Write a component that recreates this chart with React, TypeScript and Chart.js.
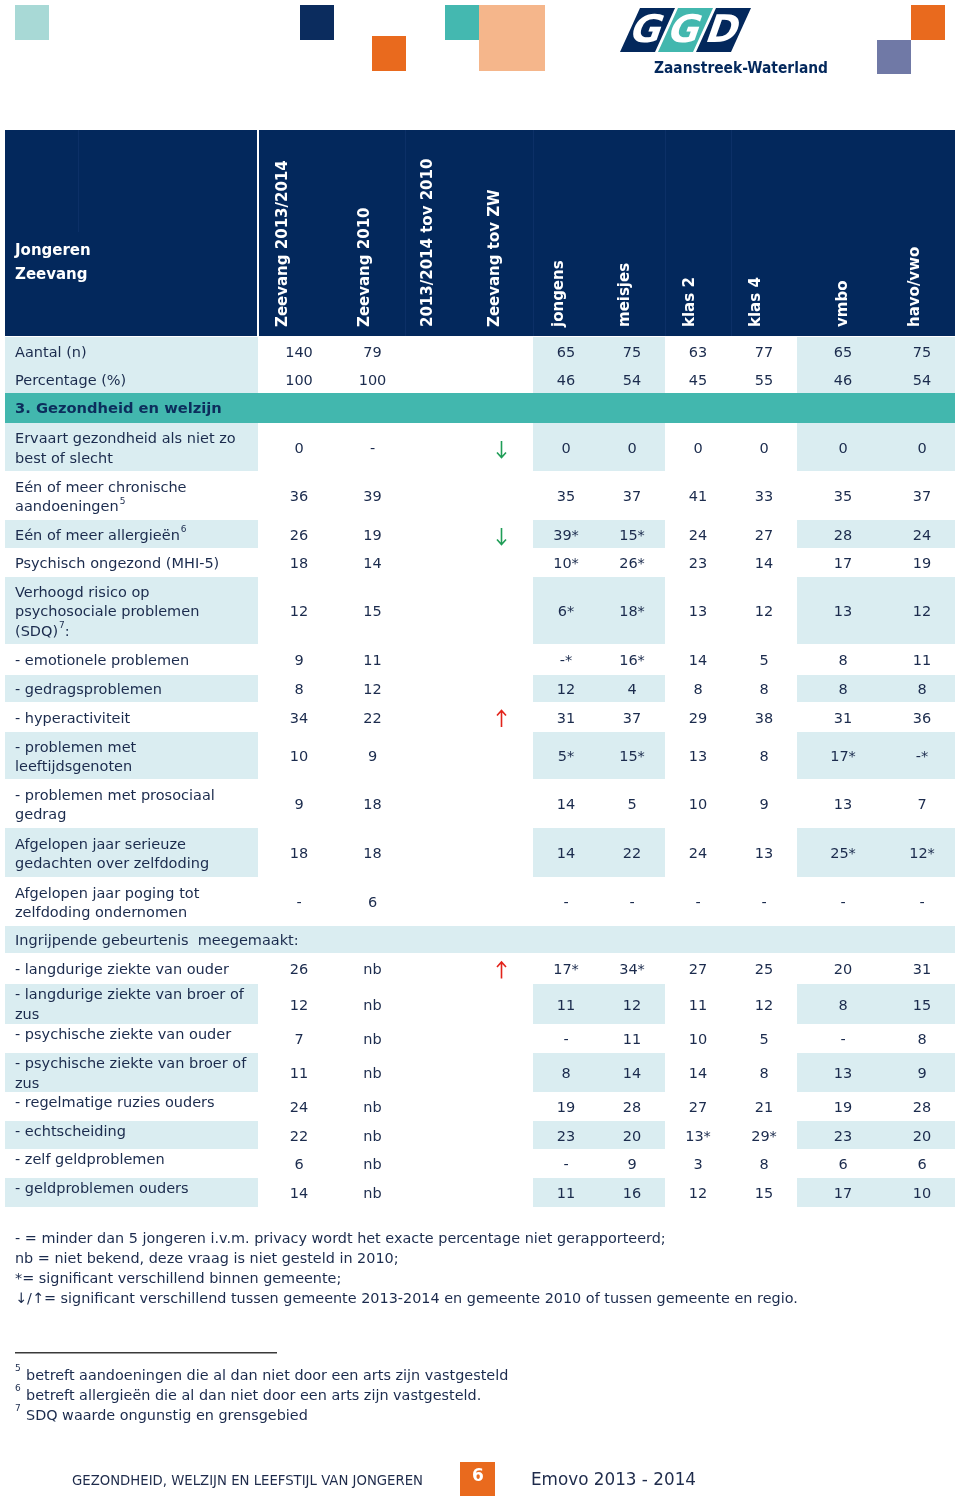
import React, { useEffect, useRef } from "react";
import { Chart, registerables } from "chart.js";

Chart.register(...registerables);

// ---------------- DATA ----------------
const columnTitles = [
  "Zeevang 2013/2014",
  "Zeevang 2010",
  "2013/2014 tov 2010",
  "Zeevang tov ZW",
  "jongens",
  "meisjes",
  "klas 2",
  "klas 4",
  "vmbo",
  "havo/vwo",
];

const cornerTitle = ["Jongeren", "Zeevang"];

const rowLabels = [
  "Aantal (n)",
  "Percentage (%)",
  "3. Gezondheid en welzijn",
  "Ervaart gezondheid als niet zo\nbest of slecht",
  "Eén of meer chronische\naandoeningen^5",
  "Eén of meer allergieën^6",
  "Psychisch ongezond (MHI-5)",
  "Verhoogd risico op\npsychosociale problemen\n(SDQ)^7:",
  "- emotionele problemen",
  "- gedragsproblemen",
  "- hyperactiviteit",
  "- problemen met\nleeftijdsgenoten",
  "- problemen met prosociaal\ngedrag",
  "Afgelopen jaar serieuze\ngedachten over zelfdoding",
  "Afgelopen jaar poging tot\nzelfdoding ondernomen",
  "Ingrijpende gebeurtenis  meegemaakt:",
  "- langdurige ziekte van ouder",
  "- langdurige ziekte van broer of\nzus",
  "- psychische ziekte van ouder",
  "- psychische ziekte van broer of\nzus",
  "- regelmatige ruzies ouders",
  "- echtscheiding",
  "- zelf geldproblemen",
  "- geldproblemen ouders",
];

const rowKinds = [
  "data", "data", "section", "data", "data", "data", "data", "data", "data", "data",
  "data", "data", "data", "data", "data", "sub", "data", "data", "data", "data",
  "data", "data", "data", "data",
];

const zeevang2014 = ["140", "100", null, "0", "36", "26", "18", "12", "9", "8", "34", "10", "9", "18", "-", null, "26", "12", "7", "11", "24", "22", "6", "14"];
const zeevang2010 = ["79", "100", null, "-", "39", "19", "14", "15", "11", "12", "22", "9", "18", "18", "6", null, "nb", "nb", "nb", "nb", "nb", "nb", "nb", "nb"];
const tov2010 = ["", "", null, "", "", "", "", "", "", "", "", "", "", "", "", null, "", "", "", "", "", "", "", ""];
const tovZW = ["", "", null, "↓", "", "↓", "", "", "", "", "↑", "", "", "", "", null, "↑", "", "", "", "", "", "", ""];
const jongens = ["65", "46", null, "0", "35", "39*", "10*", "6*", "-*", "12", "31", "5*", "14", "14", "-", null, "17*", "11", "-", "8", "19", "23", "-", "11"];
const meisjes = ["75", "54", null, "0", "37", "15*", "26*", "18*", "16*", "4", "37", "15*", "5", "22", "-", null, "34*", "12", "11", "14", "28", "20", "9", "16"];
const klas2 = ["63", "45", null, "0", "41", "24", "23", "13", "14", "8", "29", "13", "10", "24", "-", null, "27", "11", "10", "14", "27", "13*", "3", "12"];
const klas4 = ["77", "55", null, "0", "33", "27", "14", "12", "5", "8", "38", "8", "9", "13", "-", null, "25", "12", "5", "8", "21", "29*", "8", "15"];
const vmbo = ["65", "46", null, "0", "35", "28", "17", "13", "8", "8", "31", "17*", "13", "25*", "-", null, "20", "8", "-", "13", "19", "23", "6", "17"];
const havoVwo = ["75", "54", null, "0", "37", "24", "19", "12", "11", "8", "36", "-*", "7", "12*", "-", null, "31", "15", "8", "9", "28", "20", "6", "10"];

const columnValues = [zeevang2014, zeevang2010, tov2010, tovZW, jongens, meisjes, klas2, klas4, vmbo, havoVwo];

const legendLines = [
  "- = minder dan 5 jongeren i.v.m. privacy wordt het exacte percentage niet gerapporteerd;",
  "nb = niet bekend, deze vraag is niet gesteld in 2010;",
  "*= significant verschillend binnen gemeente;",
  "↓/↑= significant verschillend tussen gemeente 2013-2014 en gemeente 2010 of tussen gemeente en regio.",
];

const footnoteNumbers = ["5", "6", "7"];
const footnoteTexts = [
  "betreft aandoeningen die al dan niet door een arts zijn vastgesteld",
  "betreft allergieën die al dan niet door een arts zijn vastgesteld.",
  "SDQ waarde ongunstig en grensgebied",
];

const footerLeft = "GEZONDHEID, WELZIJN EN LEEFSTIJL VAN JONGEREN";
const footerPage = "6";
const footerRight = "Emovo 2013 - 2014";
const logoLetters = ["G", "G", "D"];
const logoName = "Zaanstreek-Waterland";

// ---------------- LAYOUT / STYLE ----------------
const PAGE_W = 960;
const PAGE_H = 1499;
const colEdges = [5, 258, 340, 405, 470, 533, 599, 665, 731, 797, 889, 955];
const headerDx = [25, 25, 23, 25, 26, 26, 25, 25, 46, 26];
const headerTop = 130;
const tableTop = 337;
const rowHeights = [28, 28, 30, 48, 49, 28, 29, 67, 31, 27, 30, 47, 49, 49, 49, 27, 31, 40, 29, 39, 29, 28, 29, 29];
const rowShaded = [1, 1, 0, 1, 0, 1, 0, 1, 0, 1, 0, 1, 0, 1, 0, 1, 0, 1, 0, 1, 0, 1, 0, 1];
const rowTopAligned = [0, 0, 0, 0, 0, 0, 0, 0, 0, 0, 0, 0, 0, 0, 0, 0, 0, 1, 1, 1, 1, 1, 1, 1];
const shadedSpans = [[5, 258], [533, 665], [797, 955]];
const TEXT_DY = 2;

const NAVY = "#03285c";
const SHADE = "#daedf1";
const TEAL = "#42b7ae";
const TEXT = "#1b2b4d";
const GREEN = "#1f9d57";
const RED = "#e2231a";
const FONT = "'DejaVu Sans', Verdana, sans-serif";

const rowTops: number[] = [];
{
  let acc = tableTop;
  rowHeights.forEach((h) => {
    rowTops.push(acc);
    acc += h;
  });
}

function colCenter(c: number) {
  return (colEdges[c + 1] + colEdges[c + 2]) / 2;
}

function drawRich(ctx: CanvasRenderingContext2D, text: string, x: number, y: number, font: string, supFont: string) {
  const parts = text.split(/(\^\d)/);
  let cx = x;
  for (const p of parts) {
    if (!p) continue;
    if (p.startsWith("^")) {
      ctx.font = supFont;
      ctx.fillText(p.slice(1), cx + 1, y - 6);
      cx += ctx.measureText(p.slice(1)).width + 1;
    } else {
      ctx.font = font;
      ctx.fillText(p, cx, y);
      cx += ctx.measureText(p).width;
    }
  }
}

const tablePlugin = {
  id: "tablePlugin",
  beforeDatasetsDraw(chart: any) {
    const ctx: CanvasRenderingContext2D = chart.ctx;
    const sx = chart.scales.x;
    const sy = chart.scales.y;
    const X = (v: number) => sx.getPixelForValue(v);
    const Y = (v: number) => sy.getPixelForValue(v);
    const rect = (x0: number, y0: number, x1: number, y1: number, color: string) => {
      ctx.fillStyle = color;
      ctx.fillRect(X(x0), Y(y0), X(x1) - X(x0), Y(y1) - Y(y0));
    };
    ctx.save();
    rect(0, 0, PAGE_W, PAGE_H, "#ffffff");

    // decorative squares
    rect(15, 5, 49, 40, "#a8d9d6");
    rect(300, 5, 334, 40, "#0b2c5e");
    rect(372, 36, 406, 71, "#e96a1e");
    rect(445, 5, 479, 40, "#44b8b0");
    rect(479, 5, 545, 71, "#f5b68b");
    rect(911, 5, 945, 40, "#e96a1e");
    rect(877, 40, 911, 74, "#7079a6");

    // GGD logo
    const logoColors = [NAVY, TEAL, NAVY];
    logoLetters.forEach((L, i) => {
      const bx = 620 + i * 38;
      ctx.beginPath();
      ctx.moveTo(X(bx + 20), Y(8));
      ctx.lineTo(X(bx + 55), Y(8));
      ctx.lineTo(X(bx + 35), Y(52));
      ctx.lineTo(X(bx), Y(52));
      ctx.closePath();
      ctx.fillStyle = logoColors[i];
      ctx.fill();
      ctx.save();
      ctx.translate(X(bx + 27), Y(31));
      ctx.transform(1, 0, -0.35, 1, 0, 0);
      ctx.fillStyle = "#ffffff";
      ctx.font = `bold 38px ${FONT}`;
      ctx.textAlign = "center";
      ctx.textBaseline = "middle";
      ctx.fillText(L, 0, 1);
      ctx.restore();
    });
    ctx.fillStyle = NAVY;
    ctx.font = `bold 15px ${FONT}`;
    ctx.textAlign = "left";
    ctx.textBaseline = "middle";
    ctx.fillText(logoName, X(654), Y(69), 174);

    // header block
    rect(5, headerTop, 955, tableTop - 1, NAVY);
    ctx.fillStyle = "#ffffff";
    ctx.fillRect(X(257), Y(headerTop), 2, Y(tableTop) - Y(headerTop));
    ctx.fillStyle = "#0c3067";
    [405, 533, 665, 731].forEach((e) => ctx.fillRect(X(e), Y(headerTop), 1, Y(tableTop - 1) - Y(headerTop)));
    ctx.fillRect(X(78), Y(headerTop), 1, Y(232) - Y(headerTop));

    ctx.fillStyle = "#ffffff";
    ctx.font = `bold 15px ${FONT}`;
    ctx.textAlign = "left";
    ctx.textBaseline = "middle";
    ctx.fillText(cornerTitle[0], X(15), Y(249 + TEXT_DY));
    ctx.fillText(cornerTitle[1], X(15), Y(273 + TEXT_DY));

    columnTitles.forEach((t, c) => {
      ctx.save();
      ctx.translate(X(colEdges[c + 1] + headerDx[c]), Y(327));
      ctx.rotate(-Math.PI / 2);
      ctx.fillStyle = "#ffffff";
      ctx.font = `bold 15px ${FONT}`;
      ctx.textAlign = "left";
      ctx.textBaseline = "middle";
      ctx.fillText(t, 0, 0);
      ctx.restore();
    });

    // rows backgrounds
    rowLabels.forEach((_, r) => {
      const y0 = rowTops[r];
      const y1 = y0 + rowHeights[r];
      if (rowKinds[r] === "section") rect(5, y0, 955, y1, TEAL);
      else if (rowKinds[r] === "sub") rect(5, y0, 955, y1, SHADE);
      else if (rowShaded[r]) shadedSpans.forEach(([a, b]) => rect(a, y0, b, y1, SHADE));
    });

    // row labels
    rowLabels.forEach((label, r) => {
      const y0 = rowTops[r];
      const h = rowHeights[r];
      const lines = label.split("\n");
      ctx.textAlign = "left";
      ctx.textBaseline = "middle";
      if (rowKinds[r] === "section") {
        ctx.fillStyle = "#0c2d5c";
        ctx.font = `bold 14.7px ${FONT}`;
        ctx.fillText(label, X(15), Y(y0 + h / 2 + 1));
        return;
      }
      ctx.fillStyle = TEXT;
      const lh = rowTopAligned[r] ? 20 : 19.5;
      const first = rowTopAligned[r] ? y0 + 11 : y0 + h / 2 - ((lines.length - 1) * lh) / 2 + TEXT_DY;
      lines.forEach((ln, i) => {
        drawRich(ctx, ln, X(15), Y(first + i * lh), `14.5px ${FONT}`, `9px ${FONT}`);
      });
    });

    // legend
    ctx.fillStyle = TEXT;
    ctx.font = `14.4px ${FONT}`;
    legendLines.forEach((t, i) => ctx.fillText(t, X(15), Y(1239 + i * 20)));
    ctx.fillStyle = "#3a3a3a";
    ctx.fillRect(X(15), Y(1352), X(277) - X(15), 1.5);
    ctx.fillStyle = TEXT;
    footnoteTexts.forEach((t, i) => {
      ctx.font = `9px ${FONT}`;
      ctx.fillText(footnoteNumbers[i], X(15), Y(1369 + i * 20));
      ctx.font = `14.4px ${FONT}`;
      ctx.fillText(t, X(26), Y(1376 + i * 20));
    });

    // footer
    ctx.fillStyle = "#1e2b4b";
    ctx.font = `13.5px ${FONT}`;
    ctx.fillText(footerLeft, X(72), Y(1481), 351);
    rect(460, 1462, 495, 1496, "#e96a1e");
    ctx.fillStyle = "#ffffff";
    ctx.font = `bold 17px ${FONT}`;
    ctx.textAlign = "center";
    ctx.fillText(footerPage, X(478), Y(1477));
    ctx.fillStyle = "#1e2b4b";
    ctx.font = `17px ${FONT}`;
    ctx.textAlign = "left";
    ctx.fillText(footerRight, X(531), Y(1481), 165);
    ctx.restore();
  },
  afterDatasetsDraw(chart: any) {
    const ctx: CanvasRenderingContext2D = chart.ctx;
    ctx.save();
    ctx.textAlign = "center";
    ctx.textBaseline = "middle";
    chart.data.datasets.forEach((ds: any, di: number) => {
      const meta = chart.getDatasetMeta(di);
      meta.data.forEach((pt: any, j: number) => {
        const raw = ds.data[j];
        const v: string = raw.label;
        const x = pt.x;
        const y = pt.y + TEXT_DY;
        if (v === "↓" || v === "↑") {
          const up = v === "↑";
          ctx.strokeStyle = up ? RED : GREEN;
          ctx.lineWidth = 1.6;
          ctx.beginPath();
          ctx.moveTo(x, y - 8);
          ctx.lineTo(x, y + 8);
          if (up) {
            ctx.moveTo(x - 4.5, y - 3.5);
            ctx.lineTo(x, y - 8.5);
            ctx.lineTo(x + 4.5, y - 3.5);
          } else {
            ctx.moveTo(x - 4.5, y + 3.5);
            ctx.lineTo(x, y + 8.5);
            ctx.lineTo(x + 4.5, y + 3.5);
          }
          ctx.stroke();
        } else {
          ctx.fillStyle = TEXT;
          ctx.font = `14.5px ${FONT}`;
          ctx.fillText(v, x, y);
        }
      });
    });
    ctx.restore();
  },
};

export default function App() {
  const ref = useRef<HTMLCanvasElement | null>(null);
  useEffect(() => {
    if (!ref.current) return;
    const datasets = columnValues.map((vals, c) => ({
      label: columnTitles[c],
      data: vals
        .map((v, r) => (v ? { x: colCenter(c), y: rowTops[r] + rowHeights[r] / 2, label: v } : null))
        .filter((d) => d !== null) as any[],
      pointRadius: 0,
      showLine: false,
    }));
    const chart = new Chart(ref.current, {
      type: "scatter",
      data: { datasets },
      options: {
        responsive: false,
        animation: false,
        devicePixelRatio: 1,
        layout: { padding: 0 },
        events: [],
        plugins: { legend: { display: false }, tooltip: { enabled: false }, title: { display: false } },
        scales: {
          x: { type: "linear", min: 0, max: PAGE_W, display: false },
          y: { type: "linear", min: 0, max: PAGE_H, reverse: true, display: false },
        },
      },
      plugins: [tablePlugin],
    } as any);
    return () => chart.destroy();
  }, []);
  return (
    <div style={{ position: "absolute", left: 0, top: 0, width: PAGE_W, height: PAGE_H, background: "#fff" }}>
      <canvas ref={ref} width={PAGE_W} height={PAGE_H} style={{ display: "block" }} />
    </div>
  );
}
